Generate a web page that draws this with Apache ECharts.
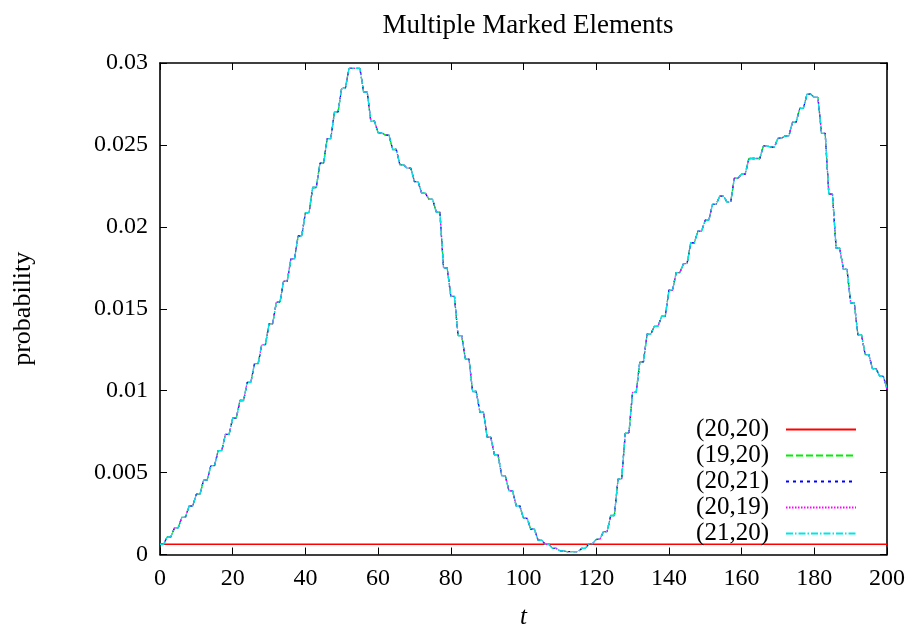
<!DOCTYPE html>
<html>
<head>
<meta charset="utf-8">
<title>Multiple Marked Elements</title>
<script src="https://cdn.jsdelivr.net/npm/echarts@6/dist/echarts.min.js"></script>
<style>
  html, body { margin: 0; padding: 0; background: #ffffff; }
  #chart { width: 914px; height: 628px; }
</style>
</head>
<body>
<div id="chart"></div>
<script>
// Series names (marked grid elements)
const seriesNames = ['(20,20)', '(19,20)', '(20,21)', '(20,19)', '(21,20)'];

// Probability of the centre element (20,20): flat over the run
const centreT = [0, 200];
const centreProb = [0.000625, 0.000625];

// Probability of the four neighbouring elements, one value per time step t = 0..200.
// By symmetry all four neighbours share the same curve.
const neighbourProb = [
  0.000625, 0.000625, 0.00108, 0.00108, 0.00163, 0.00163, 0.00227, 0.00227, 0.00296, 0.00296,
  0.00368, 0.00368, 0.00455, 0.00455, 0.00543, 0.00543, 0.00634, 0.00634, 0.00733, 0.00733,
  0.00833, 0.00833, 0.00940, 0.00940, 0.01051, 0.01051, 0.01165, 0.01165, 0.01281, 0.01281,
  0.01408, 0.01408, 0.01540, 0.01540, 0.01668, 0.01668, 0.01805, 0.01805, 0.01944, 0.01944,
  0.02087, 0.02087, 0.02240, 0.02240, 0.02388, 0.02388, 0.02539, 0.02539, 0.02702, 0.02702,
  0.02848, 0.02848, 0.02967, 0.02967, 0.02967, 0.02967, 0.02823, 0.02823, 0.02645, 0.02645,
  0.02574, 0.02574, 0.02560, 0.02560, 0.02472, 0.02472, 0.02378, 0.02378, 0.02358, 0.02358,
  0.02276, 0.02276, 0.02205, 0.02205, 0.02168, 0.02168, 0.02090, 0.02090, 0.01750, 0.01750,
  0.01576, 0.01576, 0.01336, 0.01336, 0.01193, 0.01193, 0.00995, 0.00995, 0.00869, 0.00869,
  0.00716, 0.00716, 0.00608, 0.00608, 0.00481, 0.00481, 0.00388, 0.00388, 0.00296, 0.00296,
  0.00221, 0.00221, 0.00154, 0.00154, 0.00088, 0.00088, 0.00062, 0.00062, 0.00037, 0.00037,
  0.00022, 0.00022, 0.00017, 0.00017, 0.00017, 0.00017, 0.00037, 0.00037, 0.00066, 0.00066,
  0.00092, 0.00092, 0.00140, 0.00140, 0.00238, 0.00238, 0.00460, 0.00460, 0.00740, 0.00740,
  0.00989, 0.00989, 0.01176, 0.01176, 0.01345, 0.01345, 0.01393, 0.01393, 0.01454, 0.01454,
  0.01613, 0.01613, 0.01720, 0.01720, 0.01775, 0.01775, 0.01903, 0.01903, 0.01974, 0.01974,
  0.02041, 0.02041, 0.02137, 0.02137, 0.02188, 0.02188, 0.02151, 0.02151, 0.02297, 0.02297,
  0.02321, 0.02321, 0.02417, 0.02417, 0.02417, 0.02417, 0.02494, 0.02494, 0.02486, 0.02486,
  0.02541, 0.02541, 0.02555, 0.02555, 0.02639, 0.02639, 0.02723, 0.02723, 0.02810, 0.02810,
  0.02790, 0.02790, 0.02570, 0.02570, 0.02200, 0.02200, 0.01870, 0.01870, 0.01740, 0.01740,
  0.01536, 0.01536, 0.01340, 0.01340, 0.01220, 0.01220, 0.01134, 0.01134, 0.01087, 0.01087,
  0.01010
];

// Tick labels
const xTickLabels = ['0', '20', '40', '60', '80', '100', '120', '140', '160', '180', '200'];
const yTickLabels = ['0', '0.005', '0.01', '0.015', '0.02', '0.025', '0.03'];

const FONT = '"Liberation Serif", "DejaVu Serif", serif';
const colors = ['#ff0000', '#00ee00', '#0000ff', '#ff00ff', '#00e5e5'];
const dashes = [null, [7, 3], [3, 4], [1.5, 1.5], [7, 2, 1.5, 2]];

const chart = echarts.init(document.getElementById('chart'), null, { renderer: 'canvas' });

const neighbourData = neighbourProb.map((v, i) => [i, v]);
const centreData = centreT.map((t, i) => [t, centreProb[i]]);

const series = seriesNames.map((name, k) => ({
  name: name,
  type: 'line',
  xAxisIndex: 0,
  yAxisIndex: 0,
  data: k === 0 ? centreData : neighbourData,
  showSymbol: false,
  symbol: 'none',
  animation: false,
  lineStyle: {
    color: colors[k],
    width: 1.3,
    type: dashes[k] || 'solid'
  },
  itemStyle: { color: colors[k] },
  z: 2 + k
}));

const tickStyle = { show: true, inside: true, length: 7, lineStyle: { color: '#000', width: 1 } };
const lineStyle = { show: true, onZero: false, lineStyle: { color: '#000', width: 1.6 } };

chart.setOption({
  backgroundColor: '#ffffff',
  animation: false,
  title: {
    text: 'Multiple Marked Elements',
    left: 523,
    textAlign: 'center',
    top: 7,
    textStyle: { fontFamily: FONT, fontSize: 27, fontWeight: 'normal', color: '#000' }
  },
  grid: { left: 160, right: 27, top: 63, bottom: 73.5, containLabel: false, outerBoundsMode: 'none' },
  legend: {
    orient: 'vertical',
    right: 52,
    bottom: 77,
    align: 'right',
    itemWidth: 70,
    itemHeight: 16,
    itemGap: 1,
    selectedMode: false,
    itemStyle: { opacity: 0 },
    textStyle: { fontFamily: FONT, fontSize: 25, color: '#000', lineHeight: 22, padding: [0, 12, 0, 0] },
    data: seriesNames
  },
  xAxis: [
    {
      type: 'value', min: 0, max: 200, interval: 20, position: 'bottom',
      axisLine: lineStyle, axisTick: tickStyle, splitLine: { show: false },
      axisLabel: {
        margin: 12, color: '#000', fontFamily: FONT, fontSize: 24,
        formatter: v => xTickLabels[Math.round(v / 20)]
      },
      name: 't', nameLocation: 'middle', nameGap: 50,
      nameTextStyle: { fontFamily: FONT, fontSize: 25, fontStyle: 'italic', color: '#000' }
    },
    {
      type: 'value', min: 0, max: 200, interval: 20, position: 'top',
      axisLine: lineStyle, axisTick: tickStyle, axisLabel: { show: false }, splitLine: { show: false }
    }
  ],
  yAxis: [
    {
      type: 'value', min: 0, max: 0.03, interval: 0.005, position: 'left',
      axisLine: lineStyle, axisTick: tickStyle, splitLine: { show: false },
      axisLabel: {
        margin: 12, color: '#000', fontFamily: FONT, fontSize: 24,
        formatter: v => yTickLabels[Math.round(v / 0.005)]
      },
      name: 'probability', nameLocation: 'middle', nameGap: 124, nameRotate: 90,
      nameTextStyle: { fontFamily: FONT, fontSize: 26, color: '#000' }
    },
    {
      type: 'value', min: 0, max: 0.03, interval: 0.005, position: 'right',
      axisLine: lineStyle, axisTick: tickStyle, axisLabel: { show: false }, splitLine: { show: false }
    }
  ],
  series: series
});
</script>
</body>
</html>
